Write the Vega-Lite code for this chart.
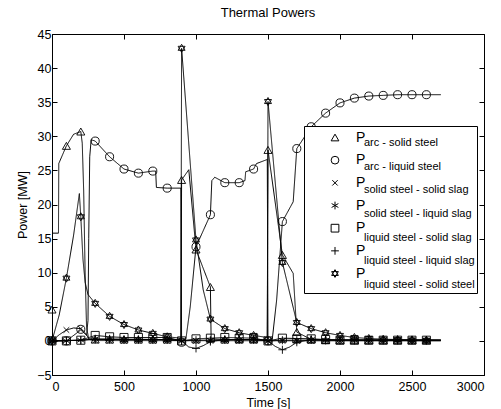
{
  "$schema": "https://vega.github.io/schema/vega-lite/v6.json",
  "width": 432,
  "height": 341,
  "autosize": {"type": "none"},
  "padding": {"left": 52, "top": 34, "right": 17, "bottom": 34},
  "background": "white",
  "title": {"text": "Thermal Powers", "fontSize": 13, "fontWeight": "normal", "font": "Liberation Sans", "color": "black", "offset": 8},
  "config": {
    "view": {"stroke": "black", "strokeWidth": 1},
    "axis": {"domainColor": "black", "tickColor": "black", "labelColor": "black", "titleColor": "black", "labelFont": "Liberation Sans", "titleFont": "Liberation Sans", "labelFontSize": 12.5, "titleFontSize": 12.5, "titleFontWeight": "normal", "grid": false, "tickSize": -5, "labelPadding": 6, "format": "d"}
  },
  "datasets": {
    "lines": [
      {"name": "arc - solid steel", "t": 0, "p": 15.8}, {"name": "arc - solid steel", "t": 45, "p": 15.8}, {"name": "arc - solid steel", "t": 47, "p": 26}, {"name": "arc - solid steel", "t": 100, "p": 28.6}, {"name": "arc - solid steel", "t": 150, "p": 30.3}, {"name": "arc - solid steel", "t": 200, "p": 30.7}, {"name": "arc - solid steel", "t": 210, "p": 29}, {"name": "arc - solid steel", "t": 220, "p": 22}, {"name": "arc - solid steel", "t": 230, "p": 10}, {"name": "arc - solid steel", "t": 240, "p": 2}, {"name": "arc - solid steel", "t": 255, "p": 0.3}, {"name": "arc - solid steel", "t": 300, "p": 0.2}, {"name": "arc - solid steel", "t": 895, "p": 0.2}, {"name": "arc - solid steel", "t": 900, "p": 23.6}, {"name": "arc - solid steel", "t": 950, "p": 25.1}, {"name": "arc - solid steel", "t": 1000, "p": 13.4}, {"name": "arc - solid steel", "t": 1100, "p": 7.9}, {"name": "arc - solid steel", "t": 1105, "p": 0.3}, {"name": "arc - solid steel", "t": 1200, "p": 0.2}, {"name": "arc - solid steel", "t": 1495, "p": 0.2}, {"name": "arc - solid steel", "t": 1500, "p": 28.0}, {"name": "arc - solid steel", "t": 1600, "p": 12.6}, {"name": "arc - solid steel", "t": 1675, "p": 9.9}, {"name": "arc - solid steel", "t": 1700, "p": 1.3}, {"name": "arc - solid steel", "t": 1800, "p": 0.2}, {"name": "arc - solid steel", "t": 2700, "p": 0.1},
      {"name": "arc - liquid steel", "t": 0, "p": 0}, {"name": "arc - liquid steel", "t": 100, "p": 0}, {"name": "arc - liquid steel", "t": 200, "p": 1.6}, {"name": "arc - liquid steel", "t": 240, "p": 0.8}, {"name": "arc - liquid steel", "t": 250, "p": 3}, {"name": "arc - liquid steel", "t": 255, "p": 15}, {"name": "arc - liquid steel", "t": 262, "p": 27}, {"name": "arc - liquid steel", "t": 272, "p": 29.5}, {"name": "arc - liquid steel", "t": 300, "p": 29.3}, {"name": "arc - liquid steel", "t": 400, "p": 27.0}, {"name": "arc - liquid steel", "t": 500, "p": 25.2}, {"name": "arc - liquid steel", "t": 600, "p": 24.6}, {"name": "arc - liquid steel", "t": 700, "p": 24.9}, {"name": "arc - liquid steel", "t": 720, "p": 24.9}, {"name": "arc - liquid steel", "t": 725, "p": 22.5}, {"name": "arc - liquid steel", "t": 800, "p": 22.4}, {"name": "arc - liquid steel", "t": 895, "p": 22.4}, {"name": "arc - liquid steel", "t": 900, "p": 0}, {"name": "arc - liquid steel", "t": 930, "p": 0.3}, {"name": "arc - liquid steel", "t": 960, "p": 5}, {"name": "arc - liquid steel", "t": 1000, "p": 13.8}, {"name": "arc - liquid steel", "t": 1100, "p": 18.5}, {"name": "arc - liquid steel", "t": 1110, "p": 23.5}, {"name": "arc - liquid steel", "t": 1130, "p": 24.0}, {"name": "arc - liquid steel", "t": 1200, "p": 23.2}, {"name": "arc - liquid steel", "t": 1300, "p": 23.2}, {"name": "arc - liquid steel", "t": 1340, "p": 23.5}, {"name": "arc - liquid steel", "t": 1345, "p": 24.8}, {"name": "arc - liquid steel", "t": 1400, "p": 25.2}, {"name": "arc - liquid steel", "t": 1420, "p": 26.0}, {"name": "arc - liquid steel", "t": 1495, "p": 26.6}, {"name": "arc - liquid steel", "t": 1500, "p": 0}, {"name": "arc - liquid steel", "t": 1530, "p": 0.3}, {"name": "arc - liquid steel", "t": 1560, "p": 6}, {"name": "arc - liquid steel", "t": 1600, "p": 17.5}, {"name": "arc - liquid steel", "t": 1675, "p": 20.4}, {"name": "arc - liquid steel", "t": 1700, "p": 28.2}, {"name": "arc - liquid steel", "t": 1800, "p": 31.4}, {"name": "arc - liquid steel", "t": 1900, "p": 33.4}, {"name": "arc - liquid steel", "t": 2000, "p": 34.9}, {"name": "arc - liquid steel", "t": 2100, "p": 35.6}, {"name": "arc - liquid steel", "t": 2200, "p": 35.9}, {"name": "arc - liquid steel", "t": 2300, "p": 36.0}, {"name": "arc - liquid steel", "t": 2400, "p": 36.1}, {"name": "arc - liquid steel", "t": 2700, "p": 36.1},
      {"name": "solid steel - solid slag", "t": 0, "p": 0}, {"name": "solid steel - solid slag", "t": 50, "p": 0.9}, {"name": "solid steel - solid slag", "t": 100, "p": 1.6}, {"name": "solid steel - solid slag", "t": 150, "p": 1.9}, {"name": "solid steel - solid slag", "t": 200, "p": 1.8}, {"name": "solid steel - solid slag", "t": 230, "p": 1.2}, {"name": "solid steel - solid slag", "t": 260, "p": 0.2}, {"name": "solid steel - solid slag", "t": 300, "p": 0.05}, {"name": "solid steel - solid slag", "t": 2700, "p": 0},
      {"name": "solid steel - liquid slag", "t": 0, "p": 0}, {"name": "solid steel - liquid slag", "t": 200, "p": 0.1}, {"name": "solid steel - liquid slag", "t": 300, "p": 0.3}, {"name": "solid steel - liquid slag", "t": 800, "p": 0.2}, {"name": "solid steel - liquid slag", "t": 900, "p": 0}, {"name": "solid steel - liquid slag", "t": 1000, "p": 0.1}, {"name": "solid steel - liquid slag", "t": 1400, "p": 0.2}, {"name": "solid steel - liquid slag", "t": 1500, "p": 0}, {"name": "solid steel - liquid slag", "t": 1600, "p": 0.1}, {"name": "solid steel - liquid slag", "t": 2700, "p": 0.1},
      {"name": "liquid steel - solid slag", "t": 0, "p": 0}, {"name": "liquid steel - solid slag", "t": 200, "p": 0.1}, {"name": "liquid steel - solid slag", "t": 300, "p": 0.8}, {"name": "liquid steel - solid slag", "t": 400, "p": 0.6}, {"name": "liquid steel - solid slag", "t": 500, "p": 0.5}, {"name": "liquid steel - solid slag", "t": 800, "p": 0.5}, {"name": "liquid steel - solid slag", "t": 900, "p": 0}, {"name": "liquid steel - solid slag", "t": 1000, "p": 0.3}, {"name": "liquid steel - solid slag", "t": 1100, "p": 0.4}, {"name": "liquid steel - solid slag", "t": 1200, "p": 0.5}, {"name": "liquid steel - solid slag", "t": 1400, "p": 0.4}, {"name": "liquid steel - solid slag", "t": 1500, "p": 0}, {"name": "liquid steel - solid slag", "t": 1600, "p": 0.4}, {"name": "liquid steel - solid slag", "t": 1800, "p": 0.3}, {"name": "liquid steel - solid slag", "t": 1900, "p": 0.2}, {"name": "liquid steel - solid slag", "t": 2000, "p": 0.1}, {"name": "liquid steel - solid slag", "t": 2700, "p": 0.1},
      {"name": "liquid steel - liquid slag", "t": 0, "p": 0}, {"name": "liquid steel - liquid slag", "t": 200, "p": 0.1}, {"name": "liquid steel - liquid slag", "t": 300, "p": 0.2}, {"name": "liquid steel - liquid slag", "t": 800, "p": 0.2}, {"name": "liquid steel - liquid slag", "t": 900, "p": 0}, {"name": "liquid steel - liquid slag", "t": 950, "p": -0.9}, {"name": "liquid steel - liquid slag", "t": 1000, "p": -1.1}, {"name": "liquid steel - liquid slag", "t": 1050, "p": -0.7}, {"name": "liquid steel - liquid slag", "t": 1100, "p": -0.1}, {"name": "liquid steel - liquid slag", "t": 1200, "p": 0.2}, {"name": "liquid steel - liquid slag", "t": 1400, "p": 0.2}, {"name": "liquid steel - liquid slag", "t": 1500, "p": 0}, {"name": "liquid steel - liquid slag", "t": 1550, "p": -0.8}, {"name": "liquid steel - liquid slag", "t": 1600, "p": -1.3}, {"name": "liquid steel - liquid slag", "t": 1650, "p": -0.9}, {"name": "liquid steel - liquid slag", "t": 1700, "p": -0.2}, {"name": "liquid steel - liquid slag", "t": 1800, "p": 0.2}, {"name": "liquid steel - liquid slag", "t": 1900, "p": 0.1}, {"name": "liquid steel - liquid slag", "t": 2700, "p": 0.1},
      {"name": "liquid steel - solid steel", "t": 0, "p": 0}, {"name": "liquid steel - solid steel", "t": 50, "p": 3.8}, {"name": "liquid steel - solid steel", "t": 100, "p": 9.2}, {"name": "liquid steel - solid steel", "t": 150, "p": 15.5}, {"name": "liquid steel - solid steel", "t": 190, "p": 21.6}, {"name": "liquid steel - solid steel", "t": 200, "p": 18.2}, {"name": "liquid steel - solid steel", "t": 215, "p": 12}, {"name": "liquid steel - solid steel", "t": 230, "p": 8.6}, {"name": "liquid steel - solid steel", "t": 250, "p": 6.8}, {"name": "liquid steel - solid steel", "t": 300, "p": 5.5}, {"name": "liquid steel - solid steel", "t": 400, "p": 3.6}, {"name": "liquid steel - solid steel", "t": 500, "p": 2.4}, {"name": "liquid steel - solid steel", "t": 600, "p": 1.6}, {"name": "liquid steel - solid steel", "t": 700, "p": 1.1}, {"name": "liquid steel - solid steel", "t": 800, "p": 0.6}, {"name": "liquid steel - solid steel", "t": 895, "p": 0.4}, {"name": "liquid steel - solid steel", "t": 900, "p": 42.9}, {"name": "liquid steel - solid steel", "t": 1000, "p": 14.8}, {"name": "liquid steel - solid steel", "t": 1050, "p": 7.5}, {"name": "liquid steel - solid steel", "t": 1100, "p": 3.2}, {"name": "liquid steel - solid steel", "t": 1200, "p": 1.8}, {"name": "liquid steel - solid steel", "t": 1300, "p": 1.2}, {"name": "liquid steel - solid steel", "t": 1400, "p": 0.8}, {"name": "liquid steel - solid steel", "t": 1495, "p": 0.5}, {"name": "liquid steel - solid steel", "t": 1500, "p": 35.1}, {"name": "liquid steel - solid steel", "t": 1600, "p": 11.5}, {"name": "liquid steel - solid steel", "t": 1700, "p": 2.7}, {"name": "liquid steel - solid steel", "t": 1800, "p": 1.8}, {"name": "liquid steel - solid steel", "t": 1900, "p": 1.2}, {"name": "liquid steel - solid steel", "t": 2000, "p": 0.8}, {"name": "liquid steel - solid steel", "t": 2100, "p": 0.5}, {"name": "liquid steel - solid steel", "t": 2200, "p": 0.35}, {"name": "liquid steel - solid steel", "t": 2300, "p": 0.25}, {"name": "liquid steel - solid steel", "t": 2400, "p": 0.2}, {"name": "liquid steel - solid steel", "t": 2500, "p": 0.15}, {"name": "liquid steel - solid steel", "t": 2700, "p": 0.1}
    ],
    "markers": [
      {"series": "P_{arc - solid steel}", "t": 0, "p": 4.6}, {"series": "P_{arc - solid steel}", "t": 100, "p": 28.6}, {"series": "P_{arc - solid steel}", "t": 200, "p": 30.7}, {"series": "P_{arc - solid steel}", "t": 300, "p": 0.2}, {"series": "P_{arc - solid steel}", "t": 400, "p": 0.2}, {"series": "P_{arc - solid steel}", "t": 500, "p": 0.2}, {"series": "P_{arc - solid steel}", "t": 600, "p": 0.2}, {"series": "P_{arc - solid steel}", "t": 700, "p": 0.2}, {"series": "P_{arc - solid steel}", "t": 800, "p": 0.2}, {"series": "P_{arc - solid steel}", "t": 900, "p": 23.6}, {"series": "P_{arc - solid steel}", "t": 1000, "p": 13.4}, {"series": "P_{arc - solid steel}", "t": 1100, "p": 7.9}, {"series": "P_{arc - solid steel}", "t": 1200, "p": 0.2}, {"series": "P_{arc - solid steel}", "t": 1300, "p": 0.2}, {"series": "P_{arc - solid steel}", "t": 1400, "p": 0.2}, {"series": "P_{arc - solid steel}", "t": 1500, "p": 28.0}, {"series": "P_{arc - solid steel}", "t": 1600, "p": 12.6}, {"series": "P_{arc - solid steel}", "t": 1700, "p": 1.3}, {"series": "P_{arc - solid steel}", "t": 1800, "p": 0.2}, {"series": "P_{arc - solid steel}", "t": 1900, "p": 0.1}, {"series": "P_{arc - solid steel}", "t": 2000, "p": 0.1}, {"series": "P_{arc - solid steel}", "t": 2100, "p": 0.1}, {"series": "P_{arc - solid steel}", "t": 2200, "p": 0.1}, {"series": "P_{arc - solid steel}", "t": 2300, "p": 0.1}, {"series": "P_{arc - solid steel}", "t": 2400, "p": 0.1}, {"series": "P_{arc - solid steel}", "t": 2500, "p": 0.1}, {"series": "P_{arc - solid steel}", "t": 2600, "p": 0.1},
      {"series": "P_{arc - liquid steel}", "t": 0, "p": 0}, {"series": "P_{arc - liquid steel}", "t": 100, "p": 0}, {"series": "P_{arc - liquid steel}", "t": 200, "p": 1.7}, {"series": "P_{arc - liquid steel}", "t": 300, "p": 29.3}, {"series": "P_{arc - liquid steel}", "t": 400, "p": 27.0}, {"series": "P_{arc - liquid steel}", "t": 500, "p": 25.2}, {"series": "P_{arc - liquid steel}", "t": 600, "p": 24.6}, {"series": "P_{arc - liquid steel}", "t": 700, "p": 24.9}, {"series": "P_{arc - liquid steel}", "t": 800, "p": 22.4}, {"series": "P_{arc - liquid steel}", "t": 900, "p": -0.2}, {"series": "P_{arc - liquid steel}", "t": 1000, "p": 13.8}, {"series": "P_{arc - liquid steel}", "t": 1100, "p": 18.5}, {"series": "P_{arc - liquid steel}", "t": 1200, "p": 23.2}, {"series": "P_{arc - liquid steel}", "t": 1300, "p": 23.2}, {"series": "P_{arc - liquid steel}", "t": 1400, "p": 25.2}, {"series": "P_{arc - liquid steel}", "t": 1500, "p": 0}, {"series": "P_{arc - liquid steel}", "t": 1600, "p": 17.5}, {"series": "P_{arc - liquid steel}", "t": 1700, "p": 28.2}, {"series": "P_{arc - liquid steel}", "t": 1800, "p": 31.4}, {"series": "P_{arc - liquid steel}", "t": 1900, "p": 33.4}, {"series": "P_{arc - liquid steel}", "t": 2000, "p": 34.9}, {"series": "P_{arc - liquid steel}", "t": 2100, "p": 35.6}, {"series": "P_{arc - liquid steel}", "t": 2200, "p": 35.9}, {"series": "P_{arc - liquid steel}", "t": 2300, "p": 36.0}, {"series": "P_{arc - liquid steel}", "t": 2400, "p": 36.1}, {"series": "P_{arc - liquid steel}", "t": 2500, "p": 36.1}, {"series": "P_{arc - liquid steel}", "t": 2600, "p": 36.1},
      {"series": "P_{solid steel - solid slag}", "t": 0, "p": 0}, {"series": "P_{solid steel - solid slag}", "t": 100, "p": 1.6}, {"series": "P_{solid steel - solid slag}", "t": 200, "p": 1.8}, {"series": "P_{solid steel - solid slag}", "t": 300, "p": 0.05}, {"series": "P_{solid steel - solid slag}", "t": 400, "p": 0}, {"series": "P_{solid steel - solid slag}", "t": 500, "p": 0}, {"series": "P_{solid steel - solid slag}", "t": 600, "p": 0}, {"series": "P_{solid steel - solid slag}", "t": 700, "p": 0}, {"series": "P_{solid steel - solid slag}", "t": 800, "p": 0}, {"series": "P_{solid steel - solid slag}", "t": 900, "p": 0}, {"series": "P_{solid steel - solid slag}", "t": 1000, "p": 0}, {"series": "P_{solid steel - solid slag}", "t": 1100, "p": 0}, {"series": "P_{solid steel - solid slag}", "t": 1200, "p": 0}, {"series": "P_{solid steel - solid slag}", "t": 1300, "p": 0}, {"series": "P_{solid steel - solid slag}", "t": 1400, "p": 0}, {"series": "P_{solid steel - solid slag}", "t": 1500, "p": 0}, {"series": "P_{solid steel - solid slag}", "t": 1600, "p": 0}, {"series": "P_{solid steel - solid slag}", "t": 1700, "p": 0}, {"series": "P_{solid steel - solid slag}", "t": 1800, "p": 0}, {"series": "P_{solid steel - solid slag}", "t": 1900, "p": 0}, {"series": "P_{solid steel - solid slag}", "t": 2000, "p": 0}, {"series": "P_{solid steel - solid slag}", "t": 2100, "p": 0}, {"series": "P_{solid steel - solid slag}", "t": 2200, "p": 0}, {"series": "P_{solid steel - solid slag}", "t": 2300, "p": 0}, {"series": "P_{solid steel - solid slag}", "t": 2400, "p": 0}, {"series": "P_{solid steel - solid slag}", "t": 2500, "p": 0}, {"series": "P_{solid steel - solid slag}", "t": 2600, "p": 0},
      {"series": "P_{solid steel - liquid slag}", "t": 0, "p": 0}, {"series": "P_{solid steel - liquid slag}", "t": 100, "p": 0}, {"series": "P_{solid steel - liquid slag}", "t": 200, "p": 0.1}, {"series": "P_{solid steel - liquid slag}", "t": 300, "p": 0.3}, {"series": "P_{solid steel - liquid slag}", "t": 400, "p": 0.3}, {"series": "P_{solid steel - liquid slag}", "t": 500, "p": 0.2}, {"series": "P_{solid steel - liquid slag}", "t": 600, "p": 0.2}, {"series": "P_{solid steel - liquid slag}", "t": 700, "p": 0.2}, {"series": "P_{solid steel - liquid slag}", "t": 800, "p": 0.2}, {"series": "P_{solid steel - liquid slag}", "t": 900, "p": 0}, {"series": "P_{solid steel - liquid slag}", "t": 1000, "p": 0.1}, {"series": "P_{solid steel - liquid slag}", "t": 1100, "p": 0.1}, {"series": "P_{solid steel - liquid slag}", "t": 1200, "p": 0.2}, {"series": "P_{solid steel - liquid slag}", "t": 1300, "p": 0.2}, {"series": "P_{solid steel - liquid slag}", "t": 1400, "p": 0.2}, {"series": "P_{solid steel - liquid slag}", "t": 1500, "p": 0}, {"series": "P_{solid steel - liquid slag}", "t": 1600, "p": 0.1}, {"series": "P_{solid steel - liquid slag}", "t": 1700, "p": 0.1}, {"series": "P_{solid steel - liquid slag}", "t": 1800, "p": 0.2}, {"series": "P_{solid steel - liquid slag}", "t": 1900, "p": 0.1}, {"series": "P_{solid steel - liquid slag}", "t": 2000, "p": 0.1}, {"series": "P_{solid steel - liquid slag}", "t": 2100, "p": 0.1}, {"series": "P_{solid steel - liquid slag}", "t": 2200, "p": 0.1}, {"series": "P_{solid steel - liquid slag}", "t": 2300, "p": 0.1}, {"series": "P_{solid steel - liquid slag}", "t": 2400, "p": 0.1}, {"series": "P_{solid steel - liquid slag}", "t": 2500, "p": 0.1}, {"series": "P_{solid steel - liquid slag}", "t": 2600, "p": 0.1},
      {"series": "P_{liquid steel - solid slag}", "t": 0, "p": 0}, {"series": "P_{liquid steel - solid slag}", "t": 100, "p": 0}, {"series": "P_{liquid steel - solid slag}", "t": 200, "p": 0.1}, {"series": "P_{liquid steel - solid slag}", "t": 300, "p": 0.8}, {"series": "P_{liquid steel - solid slag}", "t": 400, "p": 0.6}, {"series": "P_{liquid steel - solid slag}", "t": 500, "p": 0.5}, {"series": "P_{liquid steel - solid slag}", "t": 600, "p": 0.5}, {"series": "P_{liquid steel - solid slag}", "t": 700, "p": 0.5}, {"series": "P_{liquid steel - solid slag}", "t": 800, "p": 0.5}, {"series": "P_{liquid steel - solid slag}", "t": 900, "p": 0}, {"series": "P_{liquid steel - solid slag}", "t": 1000, "p": 0.3}, {"series": "P_{liquid steel - solid slag}", "t": 1100, "p": 0.4}, {"series": "P_{liquid steel - solid slag}", "t": 1200, "p": 0.5}, {"series": "P_{liquid steel - solid slag}", "t": 1300, "p": 0.4}, {"series": "P_{liquid steel - solid slag}", "t": 1400, "p": 0.4}, {"series": "P_{liquid steel - solid slag}", "t": 1500, "p": 0}, {"series": "P_{liquid steel - solid slag}", "t": 1600, "p": 0.4}, {"series": "P_{liquid steel - solid slag}", "t": 1700, "p": 0.3}, {"series": "P_{liquid steel - solid slag}", "t": 1800, "p": 0.3}, {"series": "P_{liquid steel - solid slag}", "t": 1900, "p": 0.2}, {"series": "P_{liquid steel - solid slag}", "t": 2000, "p": 0.1}, {"series": "P_{liquid steel - solid slag}", "t": 2100, "p": 0.1}, {"series": "P_{liquid steel - solid slag}", "t": 2200, "p": 0.1}, {"series": "P_{liquid steel - solid slag}", "t": 2300, "p": 0.1}, {"series": "P_{liquid steel - solid slag}", "t": 2400, "p": 0.1}, {"series": "P_{liquid steel - solid slag}", "t": 2500, "p": 0.1}, {"series": "P_{liquid steel - solid slag}", "t": 2600, "p": 0.1},
      {"series": "P_{liquid steel - liquid slag}", "t": 0, "p": 0}, {"series": "P_{liquid steel - liquid slag}", "t": 100, "p": 0}, {"series": "P_{liquid steel - liquid slag}", "t": 200, "p": 0.1}, {"series": "P_{liquid steel - liquid slag}", "t": 300, "p": 0.2}, {"series": "P_{liquid steel - liquid slag}", "t": 400, "p": 0.2}, {"series": "P_{liquid steel - liquid slag}", "t": 500, "p": 0.2}, {"series": "P_{liquid steel - liquid slag}", "t": 600, "p": 0.2}, {"series": "P_{liquid steel - liquid slag}", "t": 700, "p": 0.2}, {"series": "P_{liquid steel - liquid slag}", "t": 800, "p": 0.2}, {"series": "P_{liquid steel - liquid slag}", "t": 900, "p": 0}, {"series": "P_{liquid steel - liquid slag}", "t": 1000, "p": -1.1}, {"series": "P_{liquid steel - liquid slag}", "t": 1100, "p": -0.1}, {"series": "P_{liquid steel - liquid slag}", "t": 1200, "p": 0.2}, {"series": "P_{liquid steel - liquid slag}", "t": 1300, "p": 0.2}, {"series": "P_{liquid steel - liquid slag}", "t": 1400, "p": 0.2}, {"series": "P_{liquid steel - liquid slag}", "t": 1500, "p": 0}, {"series": "P_{liquid steel - liquid slag}", "t": 1600, "p": -1.3}, {"series": "P_{liquid steel - liquid slag}", "t": 1700, "p": -0.2}, {"series": "P_{liquid steel - liquid slag}", "t": 1800, "p": 0.2}, {"series": "P_{liquid steel - liquid slag}", "t": 1900, "p": 0.1}, {"series": "P_{liquid steel - liquid slag}", "t": 2000, "p": 0.1}, {"series": "P_{liquid steel - liquid slag}", "t": 2100, "p": 0.1}, {"series": "P_{liquid steel - liquid slag}", "t": 2200, "p": 0.1}, {"series": "P_{liquid steel - liquid slag}", "t": 2300, "p": 0.1}, {"series": "P_{liquid steel - liquid slag}", "t": 2400, "p": 0.1}, {"series": "P_{liquid steel - liquid slag}", "t": 2500, "p": 0.1}, {"series": "P_{liquid steel - liquid slag}", "t": 2600, "p": 0.1},
      {"series": "P_{liquid steel - solid steel}", "t": 0, "p": 0}, {"series": "P_{liquid steel - solid steel}", "t": 100, "p": 9.2}, {"series": "P_{liquid steel - solid steel}", "t": 200, "p": 18.2}, {"series": "P_{liquid steel - solid steel}", "t": 300, "p": 5.5}, {"series": "P_{liquid steel - solid steel}", "t": 400, "p": 3.6}, {"series": "P_{liquid steel - solid steel}", "t": 500, "p": 2.4}, {"series": "P_{liquid steel - solid steel}", "t": 600, "p": 1.6}, {"series": "P_{liquid steel - solid steel}", "t": 700, "p": 1.1}, {"series": "P_{liquid steel - solid steel}", "t": 800, "p": 0.6}, {"series": "P_{liquid steel - solid steel}", "t": 900, "p": 42.9}, {"series": "P_{liquid steel - solid steel}", "t": 1000, "p": 14.8}, {"series": "P_{liquid steel - solid steel}", "t": 1100, "p": 3.2}, {"series": "P_{liquid steel - solid steel}", "t": 1200, "p": 1.8}, {"series": "P_{liquid steel - solid steel}", "t": 1300, "p": 1.2}, {"series": "P_{liquid steel - solid steel}", "t": 1400, "p": 0.8}, {"series": "P_{liquid steel - solid steel}", "t": 1500, "p": 35.1}, {"series": "P_{liquid steel - solid steel}", "t": 1600, "p": 11.5}, {"series": "P_{liquid steel - solid steel}", "t": 1700, "p": 2.7}, {"series": "P_{liquid steel - solid steel}", "t": 1800, "p": 1.8}, {"series": "P_{liquid steel - solid steel}", "t": 1900, "p": 1.2}, {"series": "P_{liquid steel - solid steel}", "t": 2000, "p": 0.8}, {"series": "P_{liquid steel - solid steel}", "t": 2100, "p": 0.5}, {"series": "P_{liquid steel - solid steel}", "t": 2200, "p": 0.35}, {"series": "P_{liquid steel - solid steel}", "t": 2300, "p": 0.25}, {"series": "P_{liquid steel - solid steel}", "t": 2400, "p": 0.2}, {"series": "P_{liquid steel - solid steel}", "t": 2500, "p": 0.15}, {"series": "P_{liquid steel - solid steel}", "t": 2600, "p": 0.1}
    ]
  },
  "layer": [
    {
      "data": {"name": "lines"},
      "mark": {"type": "line", "color": "black", "strokeWidth": 1},
      "encoding": {
        "x": {"field": "t", "type": "quantitative", "scale": {"domain": [0, 3000], "nice": false}, "axis": {"orient": "bottom", "values": [0, 500, 1000, 1500, 2000, 2500, 3000], "title": "Time [s]", "labelPadding": 10, "titlePadding": 4}},
        "y": {"field": "p", "type": "quantitative", "scale": {"domain": [-5, 45], "nice": false, "zero": false}, "axis": {"orient": "left", "values": [-5, 0, 5, 10, 15, 20, 25, 30, 35, 40, 45], "title": "Power [MW]", "titlePadding": 7}},
        "strokeDash": {
          "field": "name", "type": "nominal",
          "scale": {"domain": ["arc - solid steel", "arc - liquid steel", "solid steel - solid slag", "solid steel - liquid slag", "liquid steel - solid slag", "liquid steel - liquid slag", "liquid steel - solid steel"], "range": [[1, 0], [1, 0], [1, 0], [1, 0], [1, 0], [1, 0], [1, 0]]},
          "legend": {"orient": "none", "legendX": 252, "legendY": 92, "title": " ", "titleFontSize": 2, "titlePadding": 7.5, "padding": 2, "symbolType": "square", "symbolSize": 100, "symbolOpacity": 0, "symbolStrokeWidth": 0, "labelOffset": 47, "labelFontSize": 11, "labelFont": "Liberation Sans", "labelColor": "black", "rowPadding": 11.67, "strokeColor": "black", "fillColor": "white", "zindex": 1}
        }
      }
    },
    {
      "data": {"name": "markers"},
      "mark": {"type": "point", "filled": false, "color": "black", "size": 65, "strokeWidth": 0.9, "opacity": 1},
      "encoding": {
        "x": {"field": "t", "type": "quantitative", "axis": {"orient": "top", "labels": false, "title": null, "domain": false, "values": [0, 500, 1000, 1500, 2000, 2500, 3000]}},
        "y": {"field": "p", "type": "quantitative", "axis": {"orient": "right", "labels": false, "title": null, "domain": false, "values": [-5, 0, 5, 10, 15, 20, 25, 30, 35, 40, 45]}},
        "shape": {
          "field": "series", "type": "nominal",
          "scale": {"domain": ["P_{arc - solid steel}", "P_{arc - liquid steel}", "P_{solid steel - solid slag}", "P_{solid steel - liquid slag}", "P_{liquid steel - solid slag}", "P_{liquid steel - liquid slag}", "P_{liquid steel - solid steel}"],
                    "range": ["triangle-up", "circle", "M-0.7,-0.7L0.7,0.7M-0.7,0.7L0.7,-0.7", "M0,-1L0,1M-0.87,-0.5L0.87,0.5M-0.87,0.5L0.87,-0.5", "square", "M-1,0L1,0M0,-1L0,1", "M0,-1L0.866,0.5L-0.866,0.5ZM0,1L0.866,-0.5L-0.866,-0.5Z"]},
          "legend": {"orient": "none", "legendX": 252, "legendY": 92, "title": null, "padding": 4.5, "symbolOffset": 19.5, "labelOffset": 14, "labelFontSize": 14, "labelFont": "Liberation Sans", "labelColor": "black", "labelExpr": "'P'", "rowPadding": 8.67, "symbolSize": 60, "symbolStrokeColor": "black", "symbolStrokeWidth": 1, "symbolFillColor": "transparent", "zindex": 2}
        }
      }
    }
  ],
  "resolve": {"axis": {"x": "independent", "y": "independent"}}
}
